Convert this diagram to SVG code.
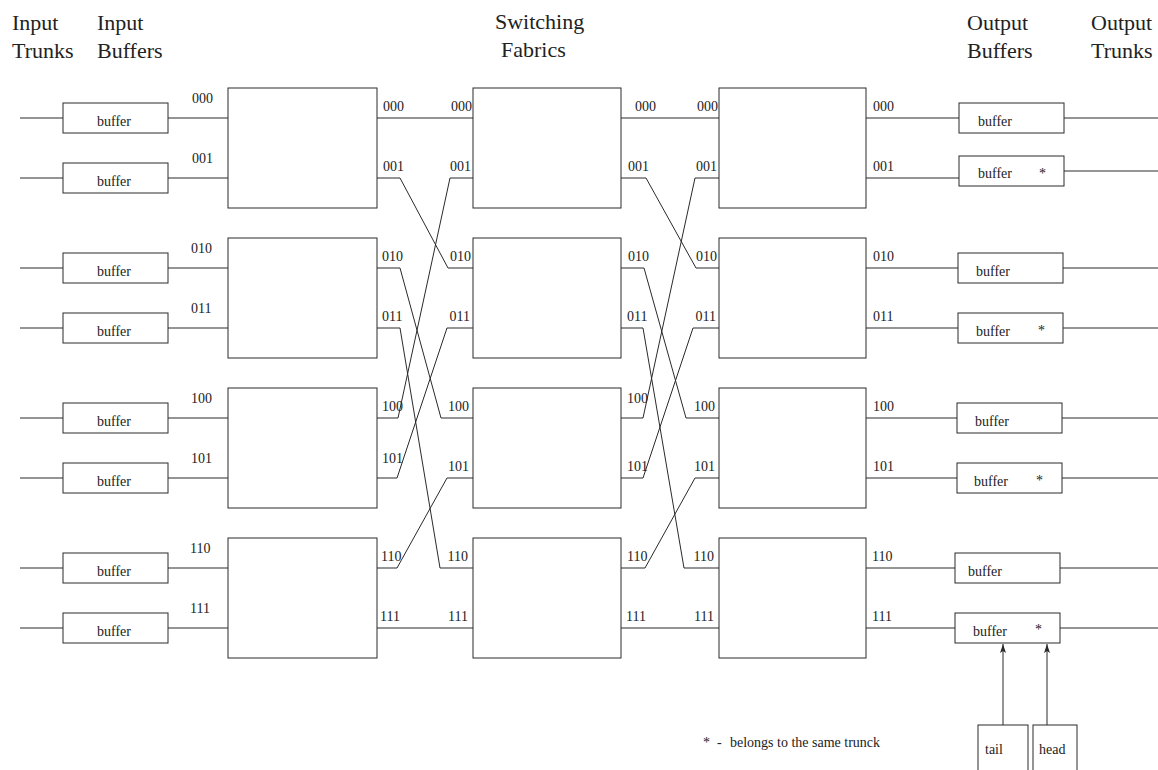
<svg xmlns="http://www.w3.org/2000/svg" width="1158" height="770" viewBox="0 0 1158 770">
<defs>
<style>
.bx{fill:#fff;stroke:#2a2a2a;stroke-width:1}
.ln{fill:none;stroke:#2a2a2a;stroke-width:1}
.hd{font-family:"Liberation Serif","Times New Roman",serif;font-size:22px;fill:#222}
.lb{font-family:"Liberation Serif","Times New Roman",serif;font-size:14px;fill:#222}
.e{text-anchor:end}
.m{text-anchor:middle}
</style>
<marker id="arr" markerWidth="10" markerHeight="7" refX="9" refY="3.5" orient="auto" markerUnits="userSpaceOnUse">
<path d="M0,0.5 L9,3.5 L0,6.5 L2,3.5 z" fill="#2a2a2a"/>
</marker>
</defs>
<rect width="1158" height="770" fill="#fff"/>

<g id="headers">
<text class="hd" x="12" y="30">Input</text>
<text class="hd" x="12" y="58">Trunks</text>
<text class="hd" x="97" y="30">Input</text>
<text class="hd" x="97" y="58">Buffers</text>
<text class="hd" x="495" y="29">Switching</text>
<text class="hd" x="501" y="57">Fabrics</text>
<text class="hd" x="967" y="30">Output</text>
<text class="hd" x="967" y="58">Buffers</text>
<text class="hd" x="1091" y="30">Output</text>
<text class="hd" x="1091" y="58">Trunks</text>
</g>

<g id="connectors">
<path class="ln" d="M20,118H63 M20,178H63 M20,268H63 M20,328H63 M20,418H63 M20,478H63 M20,568H63 M20,628H63"/>
<path class="ln" d="M168,118H228 M168,178H228 M168,268H228 M168,328H228 M168,418H228 M168,478H228 M168,568H228 M168,628H228"/>
<path class="ln" d="M377,118H473"/>
<path class="ln" d="M377,178H400L448,268H473"/>
<path class="ln" d="M377,268H400L441,418H473"/>
<path class="ln" d="M377,328H400L440,568H473"/>
<path class="ln" d="M377,418H398L450,178H473"/>
<path class="ln" d="M377,478H397L447,328H473"/>
<path class="ln" d="M377,568H397L447,478H473"/>
<path class="ln" d="M377,628H473"/>
<path class="ln" d="M621,118H719"/>
<path class="ln" d="M621,178H646L696,268H719"/>
<path class="ln" d="M621,268H644L686,418H719"/>
<path class="ln" d="M621,328H643L684,568H719"/>
<path class="ln" d="M621,418H643L695,178H719"/>
<path class="ln" d="M621,478H643L693,328H719"/>
<path class="ln" d="M621,568H645L695,478H719"/>
<path class="ln" d="M621,628H719"/>
<path class="ln" d="M866,118H959 M866,178H959 M866,268H958 M866,328H958 M866,418H957 M866,478H957 M866,568H955 M866,628H955"/>
<path class="ln" d="M1064,118H1158 M1064,171H1158 M1063,268H1158 M1063,328H1158 M1062,418H1158 M1062,478H1158 M1060,568H1158 M1060,628H1158"/>
<line class="ln" x1="1003" y1="725" x2="1003" y2="644" marker-end="url(#arr)"/>
<line class="ln" x1="1047" y1="725" x2="1047" y2="644" marker-end="url(#arr)"/>
</g>

<g id="input-buffers">
<g id="ib0"><rect class="bx" x="63" y="103" width="105" height="30"/><text class="lb m" x="114" y="126">buffer</text></g>
<g id="ib1"><rect class="bx" x="63" y="163" width="105" height="30"/><text class="lb m" x="114" y="186">buffer</text></g>
<g id="ib2"><rect class="bx" x="63" y="253" width="105" height="30"/><text class="lb m" x="114" y="276">buffer</text></g>
<g id="ib3"><rect class="bx" x="63" y="313" width="105" height="30"/><text class="lb m" x="114" y="336">buffer</text></g>
<g id="ib4"><rect class="bx" x="63" y="403" width="105" height="30"/><text class="lb m" x="114" y="426">buffer</text></g>
<g id="ib5"><rect class="bx" x="63" y="463" width="105" height="30"/><text class="lb m" x="114" y="486">buffer</text></g>
<g id="ib6"><rect class="bx" x="63" y="553" width="105" height="30"/><text class="lb m" x="114" y="576">buffer</text></g>
<g id="ib7"><rect class="bx" x="63" y="613" width="105" height="30"/><text class="lb m" x="114" y="636">buffer</text></g>
</g>

<g id="stage1">
<g id="s1-0"><rect class="bx" x="228" y="88" width="149" height="120"/></g>
<g id="s1-1"><rect class="bx" x="228" y="238" width="149" height="120"/></g>
<g id="s1-2"><rect class="bx" x="228" y="388" width="149" height="120"/></g>
<g id="s1-3"><rect class="bx" x="228" y="538" width="149" height="120"/></g>
</g>
<g id="stage2">
<g id="s2-0"><rect class="bx" x="473" y="88" width="148" height="120"/></g>
<g id="s2-1"><rect class="bx" x="473" y="238" width="148" height="120"/></g>
<g id="s2-2"><rect class="bx" x="473" y="388" width="148" height="120"/></g>
<g id="s2-3"><rect class="bx" x="473" y="538" width="148" height="120"/></g>
</g>
<g id="stage3">
<g id="s3-0"><rect class="bx" x="719" y="88" width="147" height="120"/></g>
<g id="s3-1"><rect class="bx" x="719" y="238" width="147" height="120"/></g>
<g id="s3-2"><rect class="bx" x="719" y="388" width="147" height="120"/></g>
<g id="s3-3"><rect class="bx" x="719" y="538" width="147" height="120"/></g>
</g>

<g id="port-labels">
<text class="lb" x="192" y="103">000</text>
<text class="lb" x="192" y="163">001</text>
<text class="lb" x="191" y="253">010</text>
<text class="lb" x="191" y="313">011</text>
<text class="lb" x="191" y="403">100</text>
<text class="lb" x="191" y="463">101</text>
<text class="lb" x="190" y="553">110</text>
<text class="lb" x="190" y="613">111</text>
<text class="lb" x="383" y="111">000</text>
<text class="lb" x="383" y="171">001</text>
<text class="lb" x="382" y="261">010</text>
<text class="lb" x="382" y="321">011</text>
<text class="lb" x="382" y="411">100</text>
<text class="lb" x="382" y="463">101</text>
<text class="lb" x="381" y="561">110</text>
<text class="lb" x="380" y="621">111</text>
<text class="lb e" x="472" y="111">000</text>
<text class="lb e" x="471" y="171">001</text>
<text class="lb e" x="471" y="261">010</text>
<text class="lb e" x="470" y="321">011</text>
<text class="lb e" x="469" y="411">100</text>
<text class="lb e" x="469" y="471">101</text>
<text class="lb e" x="468" y="561">110</text>
<text class="lb e" x="468" y="621">111</text>
<text class="lb" x="635" y="111">000</text>
<text class="lb" x="628" y="171">001</text>
<text class="lb" x="628" y="261">010</text>
<text class="lb" x="627" y="321">011</text>
<text class="lb" x="627" y="403">100</text>
<text class="lb" x="627" y="471">101</text>
<text class="lb" x="627" y="561">110</text>
<text class="lb" x="626" y="621">111</text>
<text class="lb e" x="718" y="111">000</text>
<text class="lb e" x="717" y="171">001</text>
<text class="lb e" x="717" y="261">010</text>
<text class="lb e" x="716" y="321">011</text>
<text class="lb e" x="715" y="411">100</text>
<text class="lb e" x="715" y="471">101</text>
<text class="lb e" x="714" y="561">110</text>
<text class="lb e" x="714" y="621">111</text>
<text class="lb" x="873" y="111">000</text>
<text class="lb" x="873" y="171">001</text>
<text class="lb" x="873" y="261">010</text>
<text class="lb" x="873" y="321">011</text>
<text class="lb" x="873" y="411">100</text>
<text class="lb" x="873" y="471">101</text>
<text class="lb" x="872" y="561">110</text>
<text class="lb" x="872" y="621">111</text>
</g>

<g id="output-buffers">
<g id="ob0"><rect class="bx" x="959" y="103" width="105" height="30"/><text class="lb" x="978" y="126">buffer</text></g>
<g id="ob1"><rect class="bx" x="959" y="156" width="105" height="30"/><text class="lb" x="978" y="178">buffer</text><text class="lb" x="1039" y="178">*</text></g>
<g id="ob2"><rect class="bx" x="958" y="253" width="105" height="30"/><text class="lb" x="976" y="276">buffer</text></g>
<g id="ob3"><rect class="bx" x="958" y="313" width="105" height="30"/><text class="lb" x="976" y="336">buffer</text><text class="lb" x="1038" y="335">*</text></g>
<g id="ob4"><rect class="bx" x="957" y="403" width="105" height="30"/><text class="lb" x="975" y="426">buffer</text></g>
<g id="ob5"><rect class="bx" x="957" y="463" width="105" height="30"/><text class="lb" x="974" y="486">buffer</text><text class="lb" x="1036" y="485">*</text></g>
<g id="ob6"><rect class="bx" x="955" y="553" width="105" height="30"/><text class="lb" x="968" y="576">buffer</text></g>
<g id="ob7"><rect class="bx" x="955" y="613" width="105" height="30"/><text class="lb" x="973" y="636">buffer</text><text class="lb" x="1035" y="634">*</text></g>
</g>

<g id="tail"><rect class="bx" x="978" y="725" width="50" height="50"/><text class="lb" x="985" y="754">tail</text></g>
<g id="head"><rect class="bx" x="1033" y="725" width="44" height="50"/><text class="lb" x="1039" y="754">head</text></g>

<g id="legend">
<text class="lb" x="703" y="747">*</text>
<text class="lb" x="717" y="747">-</text>
<text class="lb" x="730" y="747">belongs to the same trunck</text>
</g>
</svg>
